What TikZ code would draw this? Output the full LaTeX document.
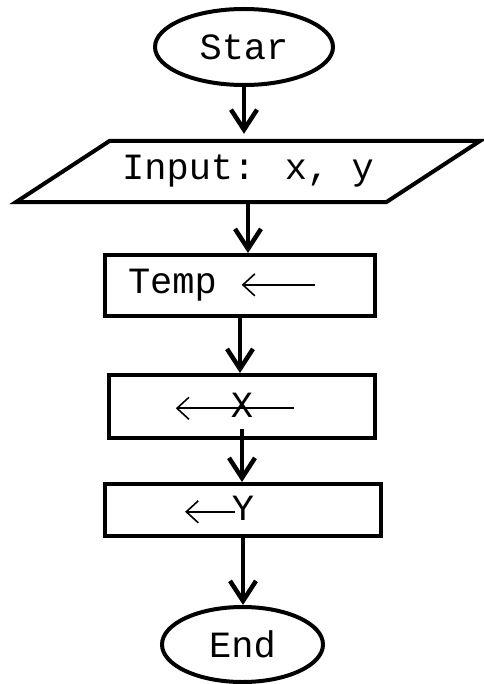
\documentclass[tikz,border=0pt]{standalone}
\usepackage{fontspec}
\newfontfamily\flowmono{Liberation Mono}
\usetikzlibrary{arrows.meta,positioning,shapes.geometric}
% small assignment arrow used inside the boxes
\newcommand{\assignarrow}[1]{\tikz[baseline=-9pt]\draw[line width=1.6pt,{Straight Barb[length=12pt,width=22pt]}-] (0pt,0pt) -- (#1,0pt);}
\newcommand{\flowfont}{\flowmono\fontsize{37}{44}\selectfont}

\begin{document}
\begin{tikzpicture}[x=1pt,y=-1pt,
  term/.style={ellipse,draw,line width=4pt,inner sep=0pt,font=\flowfont},
  proc/.style={rectangle,draw,line width=4pt,inner sep=0pt,font=\flowfont},
  flow/.style={line width=4.5pt,-{Straight Barb[length=20pt,width=26pt]}}]
\useasboundingbox (0,0) rectangle (483,684);
\node[term,minimum width=178pt,minimum height=76pt] (start) at (244,47) {Star};
% input: parallelogram round a plain node
\node[inner sep=0pt,minimum width=370pt,minimum height=61pt,font=\flowfont] (input) at (248,171.5) {Input: x, y};
\draw[line width=4pt,line join=miter] ([xshift=47pt]input.north west) -- ([xshift=47pt]input.north east)
  -- ([xshift=-47pt]input.south east) -- ([xshift=-47pt]input.south west) -- cycle;
\node[proc,minimum width=270pt,minimum height=61pt,text width=224pt,align=left] (temp) at (240,285.5) {Temp\hspace*{24pt}\assignarrow{73pt}};
\node[proc,minimum width=266pt,minimum height=63pt] (swapx) at (242,406.5) {\makebox[0pt][l]{\hspace*{-56pt}\assignarrow{118pt}}X};
\node[proc,minimum width=276pt,minimum height=52pt] (swapy) at (243,510) {\makebox[0pt][r]{\assignarrow{50pt}\hspace*{-4pt}}Y};
\node[term,minimum width=161pt,minimum height=75pt] (stop) at (242.5,644.5) {End};
% connectors
\draw[flow,shorten >=7pt] (start.south) -- (start.south |- input.north);
\draw[flow] (input.south) -- (input.south |- temp.north);
\draw[flow] (temp.south) -- (temp.south |- swapx.north);
\draw[flow] ([yshift=11pt]swapx.south) -- (swapx.south |- swapy.north);
\draw[flow] (swapy.south) -- (swapy.south |- stop.north);
\end{tikzpicture}
\end{document}
